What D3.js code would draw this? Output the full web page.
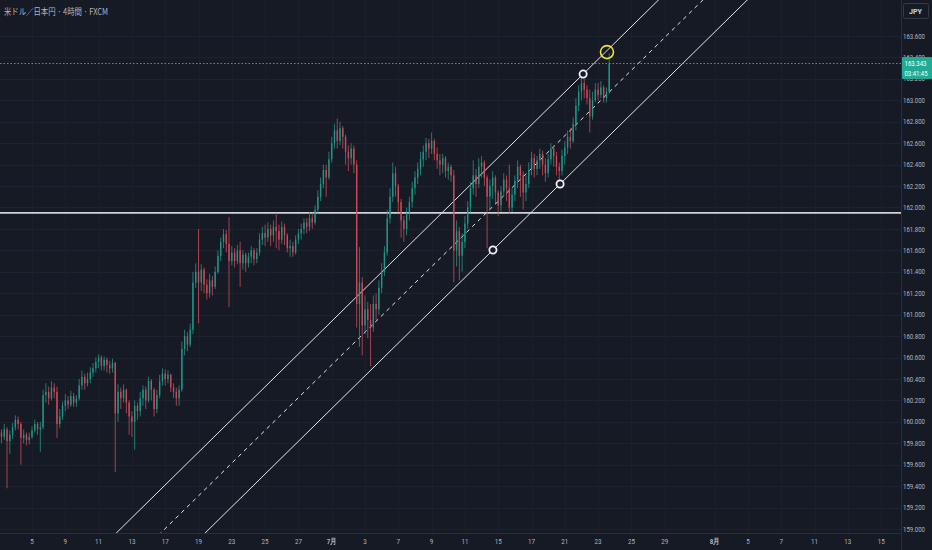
<!DOCTYPE html>
<html><head><meta charset="utf-8">
<script src="https://cdn.jsdelivr.net/npm/d3@7"></script>
<style>html,body{margin:0;padding:0;background:#161a25;overflow:hidden}</style>
</head><body>
<svg id="c" width="932" height="550"></svg>
<script>
// ---- data (4h bars, USD/JPY) ----
const firstOpen = 159.93;
const closes = [
159.90,159.86,159.93,159.82,159.88,159.95,160.02,159.98,159.85,159.88,159.83,159.86,
159.92,159.98,159.93,159.95,160.25,160.28,160.22,160.32,160.28,159.98,160.05,160.15,
160.20,160.16,160.24,160.18,160.22,160.34,160.42,160.36,160.40,160.46,160.50,160.56,
160.60,160.52,160.58,160.53,160.50,160.55,160.08,160.28,160.22,160.30,160.18,160.05,
160.00,160.15,160.10,160.22,160.30,160.20,160.38,160.30,160.12,160.25,160.38,160.45,
160.40,160.44,160.32,160.28,160.22,160.30,160.68,160.80,160.72,160.86,161.30,161.40,
161.30,161.42,161.28,161.20,161.32,161.26,161.40,161.55,161.68,161.75,161.66,161.50,
161.58,161.50,161.60,161.48,161.56,161.48,161.54,161.60,161.52,161.58,161.70,161.76,
161.72,161.80,161.74,161.82,161.78,161.70,161.82,161.74,161.62,161.64,161.58,161.70,
161.76,161.80,161.86,161.82,161.90,161.86,161.98,162.10,162.22,162.35,162.28,162.45,
162.60,162.72,162.62,162.74,162.66,162.52,162.46,162.55,162.40,161.10,161.30,160.90,
161.05,160.95,160.88,161.10,161.05,161.25,161.40,161.58,161.90,162.10,162.32,162.20,
162.05,161.88,161.80,161.95,162.05,162.18,162.28,162.36,162.45,162.52,162.60,162.55,
162.62,162.50,162.44,162.40,162.46,162.34,162.38,162.30,161.60,161.78,161.55,161.68,
161.85,162.00,162.18,162.30,162.22,162.38,162.42,162.28,162.10,162.20,162.28,162.14,
162.02,162.15,162.26,162.18,162.00,162.12,162.25,162.38,162.30,162.14,162.22,162.35,
162.46,162.36,162.44,162.50,162.40,162.32,162.45,162.55,162.48,162.38,162.34,162.48,
162.56,162.66,162.62,162.78,162.95,163.08,163.16,163.10,163.02,162.85,163.00,163.10,
163.05,163.12,163.02,163.08,163.343];
const highs = [
159.97,159.93,159.98,159.95,159.92,159.99,160.06,160.05,160.00,159.93,159.90,159.90,
159.96,160.02,160.00,160.00,160.30,160.36,160.33,160.38,160.36,160.33,160.12,160.19,
160.26,160.24,160.29,160.27,160.25,160.40,160.48,160.45,160.46,160.51,160.55,160.60,
160.63,160.62,160.61,160.60,160.57,160.59,160.56,160.35,160.32,160.35,160.31,160.20,
160.10,160.20,160.18,160.28,160.34,160.33,160.42,160.40,160.32,160.30,160.44,160.50,
160.49,160.48,160.45,160.36,160.32,160.34,160.75,160.86,160.84,160.92,161.40,161.48,
161.80,161.47,161.44,161.33,161.38,161.36,161.45,161.60,161.72,161.80,161.79,161.91,
161.64,161.62,161.65,161.68,161.60,161.58,161.58,161.64,161.62,161.62,161.76,161.82,
161.84,161.86,161.84,161.88,161.95,161.84,161.87,161.85,161.76,161.70,161.68,161.74,
161.80,161.85,161.90,161.90,161.96,161.95,162.02,162.16,162.28,162.40,162.40,162.52,
162.66,162.78,162.83,162.80,162.76,162.68,162.58,162.60,162.58,162.44,161.63,161.35,
161.18,161.12,161.10,161.18,161.20,161.32,161.48,161.64,161.98,162.18,162.42,162.38,
162.22,162.08,161.92,162.00,162.10,162.24,162.34,162.42,162.52,162.58,162.65,162.64,
162.70,162.64,162.56,162.50,162.50,162.48,162.42,162.40,162.35,161.88,161.82,161.76,
161.92,162.06,162.24,162.44,162.36,162.46,162.48,162.44,162.30,162.26,162.34,162.30,
162.16,162.20,162.32,162.30,162.40,162.18,162.30,162.44,162.40,162.34,162.30,162.42,
162.52,162.50,162.48,162.55,162.53,162.46,162.50,162.60,162.58,162.52,162.42,162.54,
162.62,162.72,162.74,162.84,163.02,163.14,163.22,163.20,163.14,163.10,163.08,163.16,
163.16,163.18,163.14,163.12,163.44];
const lows = [
159.84,159.80,159.83,159.38,159.70,159.84,159.92,159.93,159.60,159.80,159.78,159.79,
159.84,159.90,159.88,159.72,159.93,160.18,160.16,160.20,160.22,159.85,159.94,160.02,
160.10,160.12,160.14,160.14,160.14,160.20,160.30,160.30,160.33,160.36,160.42,160.46,
160.50,160.48,160.48,160.46,160.45,160.46,159.53,160.00,160.12,160.18,160.08,159.88,
159.86,159.74,160.02,160.05,160.15,160.12,160.18,160.20,160.05,160.08,160.22,160.34,
160.34,160.36,160.28,160.22,160.15,160.15,160.28,160.62,160.66,160.70,160.82,161.25,
160.92,161.22,161.20,161.14,161.16,161.18,161.24,161.38,161.50,161.62,161.58,161.07,
161.46,161.44,161.47,161.26,161.42,161.40,161.44,161.48,161.46,161.48,161.55,161.65,
161.64,161.68,161.64,161.68,161.62,161.60,161.66,161.65,161.58,161.54,161.54,161.56,
161.66,161.70,161.75,161.76,161.78,161.80,161.84,161.94,162.06,162.18,162.10,162.26,
162.42,162.55,162.55,162.58,162.55,162.40,162.34,162.40,162.32,160.88,160.70,160.62,
160.82,160.78,160.52,160.84,160.95,161.00,161.20,161.36,161.55,161.85,162.05,162.10,
161.95,161.72,161.68,161.74,161.88,162.00,162.12,162.22,162.30,162.38,162.44,162.46,
162.50,162.44,162.36,162.30,162.32,162.28,162.26,162.24,161.30,161.45,161.32,161.40,
161.62,161.80,161.95,162.12,162.10,162.18,162.28,162.20,161.62,161.98,162.08,162.04,
161.92,161.96,162.10,162.06,161.94,161.96,162.06,162.18,162.10,161.98,162.06,162.18,
162.30,162.28,162.30,162.36,162.30,162.24,162.28,162.40,162.38,162.30,162.22,162.30,
162.40,162.50,162.55,162.60,162.72,162.90,163.00,163.02,162.96,162.70,162.82,162.98,
163.00,163.02,162.98,162.98,163.06];

const dateLabels = ["5","9","11","13","17","19","23","25","27","7月","3","7","9","11","15","17","21","23","25","29","8月","5","7","11","13","15"];
const dateBars   = [12,24,36,48,60,72,84,96,108,120,132,144,156,168,180,192,204,216,228,240,258,270,282,294,306,318];
const priceTicks = [159.0,159.2,159.4,159.6,159.8,160.0,160.2,160.4,160.6,160.8,161.0,161.2,161.4,161.6,161.8,162.0,162.2,162.4,162.6,162.8,163.0,163.2,163.4,163.6];

// channel anchor points (bar index, price)
const channelPts = [{bar:178.1, price:161.603},{bar:202.3, price:162.219},{bar:210.6, price:163.245}];
const levelPrice = 161.95;
const markCircle = {bar:219.2, price:163.45};
const lastTime = "03:41:45";
const title = "米ドル／日本円 · 4時間 · FXCM";

// ---- build ----
const bars = closes.map((c,i)=>{
  const o = i===0 ? firstOpen : closes[i-1];
  return {i, o, c, h:Math.max(highs[i],o,c), l:Math.min(lows[i],o,c)};
});

const W=932, H=550, PW=901, PH=533;
const svg = d3.select("#c");
const x = d3.scaleLinear().domain([0.468, 325.15]).range([0, PW]);
const y = d3.scaleLinear().domain([158.963, 163.936]).range([PH, 0]);
const fmt = d3.format(".3f");
const axisFont = "Roboto,'Liberation Sans',sans-serif";

svg.append("rect").attr("width",W).attr("height",H).attr("fill","#161a25");
svg.append("defs").append("clipPath").attr("id","plot")
  .append("rect").attr("x",0).attr("y",0).attr("width",PW).attr("height",PH);

const plot = svg.append("g").attr("clip-path","url(#plot)");

// grid
plot.append("g").selectAll("line").data(priceTicks).join("line")
  .attr("x1",0).attr("x2",PW).attr("y1",d=>Math.round(y(d))+0.5).attr("y2",d=>Math.round(y(d))+0.5)
  .attr("stroke","#1e2230").attr("stroke-width",1);
plot.append("g").selectAll("line").data(dateBars).join("line")
  .attr("y1",0).attr("y2",PH).attr("x1",d=>Math.round(x(d))+0.5).attr("x2",d=>Math.round(x(d))+0.5)
  .attr("stroke","#1b1f2b").attr("stroke-width",1);

// horizontal level
plot.append("line").attr("x1",0).attr("x2",PW).attr("y1",y(levelPrice)).attr("y2",y(levelPrice))
  .attr("stroke","#cfd2d9").attr("stroke-width",1.6);

// channel
const [pA,pB,pC] = channelPts;
const slope = (pB.price-pA.price)/(pB.bar-pA.bar);
const lower = b => pA.price + slope*(b-pA.bar);
const off = pC.price - lower(pC.bar);
const b0 = 0, b1 = 330;
[[0,null],[off/2,"4,4"],[off,null]].forEach(([o,dash])=>{
  const l = plot.append("line")
    .attr("x1",x(b0)).attr("y1",y(lower(b0)+o))
    .attr("x2",x(b1)).attr("y2",y(lower(b1)+o))
    .attr("stroke","#e3e5ea").attr("stroke-width",1);
  if(dash) l.attr("stroke-dasharray",dash);
});

// candles
const up="#22a08f", dn="#d9505c";
const cg = plot.append("g").attr("opacity",0.92);
cg.selectAll("line").data(bars).join("line")
  .attr("x1",d=>x(d.i)).attr("x2",d=>x(d.i)).attr("y1",d=>y(d.h)).attr("y2",d=>y(d.l))
  .attr("stroke",d=>d.c>=d.o?up:dn).attr("stroke-width",0.8);
cg.selectAll("rect").data(bars).join("rect")
  .attr("x",d=>x(d.i)-0.7).attr("width",1.4)
  .attr("y",d=>y(Math.max(d.o,d.c)))
  .attr("height",d=>Math.max(0.8, Math.abs(y(d.o)-y(d.c))))
  .attr("fill",d=>d.c>=d.o?up:dn);

// price line
const last = bars[bars.length-1];
plot.append("line").attr("x1",0).attr("x2",PW).attr("y1",y(last.c)).attr("y2",y(last.c))
  .attr("stroke","#9aa0ad").attr("stroke-width",0.8).attr("stroke-dasharray","1.5,2");

// anchor circles
plot.append("g").selectAll("circle").data(channelPts).join("circle")
  .attr("cx",d=>x(d.bar)).attr("cy",d=>y(d.price)).attr("r",3.6)
  .attr("fill","#161a25").attr("stroke","#f2f3f5").attr("stroke-width",1.8);
plot.append("circle").attr("cx",x(markCircle.bar)).attr("cy",y(markCircle.price)).attr("r",6.5)
  .attr("fill","none").attr("stroke","#efe23a").attr("stroke-width",1.6);

// axes borders
svg.append("line").attr("x1",0).attr("x2",PW).attr("y1",PH+0.5).attr("y2",PH+0.5).attr("stroke","#2a2e39");
svg.append("line").attr("x1",PW+0.5).attr("x2",PW+0.5).attr("y1",0).attr("y2",H).attr("stroke","#2a2e39");

// price labels
svg.append("g").selectAll("text").data(priceTicks).join("text")
  .attr("x",903).attr("y",d=>y(d)+2.6).text(d=>fmt(d))
  .attr("textLength",22).attr("lengthAdjust","spacingAndGlyphs")
  .attr("fill","#b2b5be").attr("font-size","7.2px").attr("font-family",axisFont);

// date labels
svg.append("g").selectAll("text").data(dateBars).join("text")
  .attr("x",d=>x(d)).attr("y",544.5).attr("text-anchor","middle")
  .text((d,i)=>dateLabels[i])
  .attr("fill","#b2b5be").attr("font-size","7.6px").attr("font-family",axisFont)
  .attr("transform",d=>`translate(${x(d)},0) scale(0.82,1) translate(${-x(d)},0)`)
  .attr("font-weight",(d,i)=>dateLabels[i].includes("月")?"bold":null);

// last price tag
const ly = y(last.c);
svg.append("rect").attr("x",902).attr("y",ly-6.5).attr("width",30).attr("height",22).attr("fill","#22ab94").attr("rx",1);
svg.append("text").attr("x",904.5).attr("y",ly+2.6).text(fmt(last.c))
  .attr("textLength",22).attr("lengthAdjust","spacingAndGlyphs")
  .attr("fill","#ffffff").attr("font-size","7px").attr("font-family",axisFont);
svg.append("text").attr("x",904.5).attr("y",ly+12.2).text(lastTime)
  .attr("textLength",23).attr("lengthAdjust","spacingAndGlyphs")
  .attr("fill","#ffffff").attr("font-size","7px").attr("font-family",axisFont);

// currency box
svg.append("rect").attr("x",903.5).attr("y",3.5).attr("width",25).attr("height",15).attr("rx",2)
  .attr("fill","#161a25").attr("stroke","#363a45");
svg.append("text").attr("x",909).attr("y",13.5).text("JPY")
  .attr("textLength",13).attr("lengthAdjust","spacingAndGlyphs")
  .attr("fill","#d1d4dc").attr("font-size","7.5px").attr("font-weight","bold").attr("font-family",axisFont);

// title
svg.append("text").attr("x",4).attr("y",14.5).text(title)
  .attr("textLength",104).attr("lengthAdjust","spacingAndGlyphs")
  .attr("fill","#b2b5be").attr("font-size","8.6px").attr("font-family","'Noto Sans CJK JP','Noto Sans',sans-serif");
</script>
</body></html>
